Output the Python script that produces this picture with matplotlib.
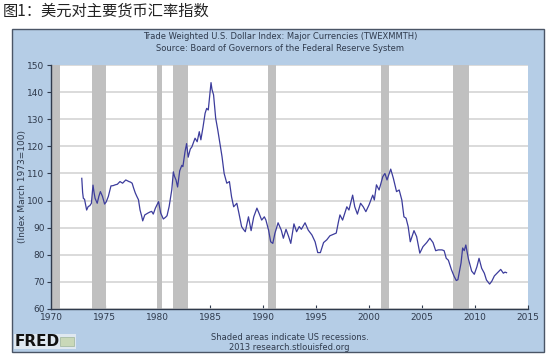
import matplotlib.pyplot as plt
from matplotlib.patches import Rectangle

plt.rcParams['font.family'] = ['DejaVu Sans']

# Trade weighted dollar index (decimal year, index)
years = [1972.84, 1972.92, 1972.99, 1973.1, 1973.3, 1973.45, 1973.6, 1973.75, 1973.9, 1974.0,
         1974.1, 1974.3, 1974.45, 1974.6, 1974.8, 1975.0, 1975.15, 1975.35, 1975.6, 1975.8,
         1976.0, 1976.2, 1976.45, 1976.7, 1977.0, 1977.3, 1977.45, 1977.6, 1977.75, 1977.9,
         1978.05, 1978.2, 1978.35, 1978.5, 1978.6, 1978.8, 1979.1, 1979.3, 1979.45, 1979.6,
         1979.8, 1980.1, 1980.3, 1980.55, 1980.75, 1980.9, 1981.1, 1981.35, 1981.5, 1981.6,
         1981.75, 1981.9, 1982.1, 1982.3, 1982.4, 1982.6, 1982.75, 1982.9, 1983.1, 1983.25,
         1983.4, 1983.55, 1983.75, 1983.95, 1984.1, 1984.3, 1984.5, 1984.65, 1984.8, 1984.95,
         1985.06, 1985.15, 1985.3, 1985.5, 1985.7, 1985.85, 1986.1, 1986.3, 1986.55, 1986.8,
         1987.0, 1987.2, 1987.5, 1987.7, 1987.95, 1988.1, 1988.3, 1988.6, 1988.85, 1989.1,
         1989.4, 1989.6, 1989.85, 1990.1, 1990.25, 1990.5, 1990.7, 1990.9, 1991.1, 1991.4,
         1991.7, 1991.9, 1992.15, 1992.4, 1992.6, 1992.9, 1993.15, 1993.4, 1993.6, 1993.95,
         1994.25, 1994.6, 1994.9, 1995.15, 1995.4, 1995.7, 1996.0, 1996.3, 1996.6, 1996.9,
         1997.1, 1997.25, 1997.5, 1997.9, 1998.1, 1998.45, 1998.65, 1998.9, 1999.2, 1999.45,
         1999.7, 2000.0, 2000.35, 2000.5, 2000.7, 2000.95, 2001.3, 2001.5, 2001.7, 2002.05,
         2002.3, 2002.6, 2002.85, 2003.1, 2003.3, 2003.5, 2003.7, 2003.9, 2004.25, 2004.5,
         2004.8, 2005.1, 2005.45, 2005.75, 2006.05, 2006.3, 2006.55, 2006.9, 2007.1, 2007.3,
         2007.5, 2007.8, 2008.05, 2008.25, 2008.4, 2008.7, 2008.85, 2009.0, 2009.15, 2009.4,
         2009.7, 2009.95, 2010.2, 2010.4, 2010.65, 2010.9, 2011.1, 2011.4, 2011.6, 2011.85,
         2012.1, 2012.45, 2012.7, 2012.85, 2013.0]
index = [108.2, 103.0, 100.8, 100.5, 96.5, 97.8, 98.1, 99.0, 105.7, 103.0,
         100.8, 99.0, 101.5, 103.3, 101.5, 98.7, 99.5, 101.5, 105.4, 105.5,
         105.8, 106.0, 107.0, 106.4, 107.6, 107.0, 106.8, 106.4, 104.5, 102.8,
         101.5, 100.3, 96.5, 94.3, 92.5, 94.7, 95.4, 95.8, 96.0, 95.0,
         97.2, 99.6, 95.4, 93.2, 93.8, 94.4, 97.8, 104.0, 110.6, 109.0,
         107.6, 105.0, 111.0, 113.0, 112.5, 118.0, 121.0, 116.0, 119.0, 119.8,
         121.4, 123.0, 121.7, 125.4, 122.4, 127.0, 132.2, 134.0, 133.4, 139.0,
         143.5, 141.0, 139.0, 130.4, 126.0, 122.4, 116.2, 110.0, 106.4, 107.0,
         101.4, 97.7, 99.0, 95.3, 90.4, 89.5, 88.5, 94.0, 88.9, 94.0,
         97.2, 95.3, 92.8, 94.0, 92.8, 89.1, 84.8, 84.2, 87.9, 91.8,
         89.1, 86.1, 89.4, 86.7, 84.2, 91.4, 88.5, 90.4, 89.4, 91.8,
         89.1, 87.3, 84.8, 80.8, 80.8, 84.5, 85.5, 87.0, 87.5, 88.0,
         92.0, 94.7, 92.8, 97.7, 96.5, 102.0, 97.7, 95.0, 99.0, 97.7,
         95.9, 98.4, 102.0, 100.2, 105.8, 103.9, 108.8, 110.0, 107.6, 111.6,
         108.2, 103.3, 103.9, 100.2, 94.0, 93.5, 90.4, 84.8, 88.9, 86.7,
         80.6, 83.0, 84.5, 86.1, 84.5, 81.5, 81.8, 81.8, 81.5, 78.7,
         78.0, 74.4, 72.0, 70.5, 70.8, 77.0, 82.5, 81.5, 83.6, 78.4,
         74.0, 72.8, 75.6, 78.7, 75.0, 73.2, 70.7, 69.2, 70.2, 72.2,
         73.2, 74.6, 73.2, 73.6, 73.4]

# US recessions (start, end)
rec_start = [1969.95, 1973.85, 1979.95, 1981.45, 1990.45, 2001.15, 2007.9]
rec_end = [1970.75, 1975.1, 1980.45, 1982.85, 1991.2, 2001.9, 2009.45]

x_ticks = [1970, 1975, 1980, 1985, 1990, 1995, 2000, 2005, 2010, 2015]
y_ticks = [60, 70, 80, 90, 100, 110, 120, 130, 140, 150]

text_col = '#2f3a4c'
panel_col = '#b5cde6'

fig = plt.figure(figsize=(5.6, 3.55), dpi=100)
fig.patch.set_facecolor('white')

# blue FRED panel behind the chart
fig.patches.append(Rectangle((0.021, 0.009), 0.950, 0.909, transform=fig.transFigure,
                             facecolor=panel_col, edgecolor='#4a5566', linewidth=1.0, zorder=-5))

ax = fig.add_axes([0.0905, 0.1296, 0.8518, 0.6873])
ax.set_facecolor('white')
ax.set_xlim(1969.9, 2015)
ax.set_ylim(60, 150)

for s, e in zip(rec_start, rec_end):
    ax.axvspan(s, e, color='#c0c0c0', linewidth=0, zorder=1)

ax.set_yticks(y_ticks)
ax.set_xticks(x_ticks)
ax.grid(axis='y', color='#d4d4d4', linewidth=1.2, zorder=0.5)
ax.set_axisbelow(True)

ax.plot(years, index, color='#3c3c9c', linewidth=0.9, zorder=3)

for side in ['top', 'right']:
    ax.spines[side].set_visible(False)
for side in ['left', 'bottom']:
    ax.spines[side].set_color('#2f3a4c')
    ax.spines[side].set_linewidth(1.0)

ax.tick_params(axis='y', direction='out', length=3, width=0.8, colors=text_col, labelsize=6.5, pad=1.5)
ax.tick_params(axis='x', direction='in', length=3, width=0.8, colors=text_col, labelsize=6.5, pad=3)
ax.set_ylabel('(Index March 1973=100)', fontsize=6.5, color=text_col, labelpad=0)

# titles and footer text
fig.text(0.5, 0.896, 'Trade Weighted U.S. Dollar Index: Major Currencies (TWEXMMTH)',
         ha='center', va='center', fontsize=6, color=text_col)
fig.text(0.5, 0.862, 'Source: Board of Governors of the Federal Reserve System',
         ha='center', va='center', fontsize=6, color=text_col)
fig.text(0.517, 0.048, 'Shaded areas indicate US recessions.',
         ha='center', va='center', fontsize=6, color=text_col)
fig.text(0.517, 0.020, '2013 research.stlouisfed.org',
         ha='center', va='center', fontsize=6, color=text_col)

# FRED logo
fig.patches.append(Rectangle((0.025, 0.018), 0.110, 0.040, transform=fig.transFigure,
                             facecolor='#dfe8f0', edgecolor='none', zorder=1))
fig.text(0.027, 0.038, 'FRED', ha='left', va='center', fontsize=11, fontweight='bold', color='#111111')
fig.patches.append(Rectangle((0.108, 0.024), 0.024, 0.028, transform=fig.transFigure,
                             facecolor='#c9d8b8', edgecolor='#9fb59a', linewidth=0.5, zorder=2))

# Chinese caption above the panel
fig.text(0.004, 0.970, '图1：美元对主要货币汇率指数', ha='left', va='center', fontsize=11,
         color='#222222', family=['Noto Sans CJK SC', 'DejaVu Sans'])

plt.savefig('out.png', dpi=100)
